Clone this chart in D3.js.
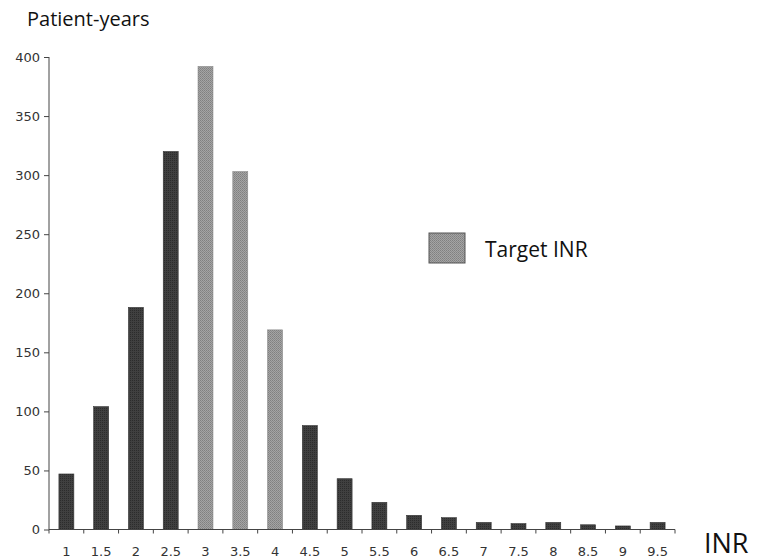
<!DOCTYPE html>
<html><head><meta charset="utf-8">
<script src="https://cdn.jsdelivr.net/npm/d3@7"></script>
<style>body{margin:0;background:#fff}svg{display:block}</style>
</head><body>
<script>
const categories = ["1","1.5","2","2.5","3","3.5","4","4.5","5","5.5","6","6.5","7","7.5","8","8.5","9","9.5"];
const values = [47,104,188,320,392,303,169,88,43,23,12,10,6,5,6,4,3,6];
const target = [false,false,false,false,true,true,true,false,false,false,false,false,false,false,false,false,false,false];
const yTicks = [0,50,100,150,200,250,300,350,400];

const W=757,H=560;
const svg=d3.select("body").append("svg").attr("width",W).attr("height",H);
const defs=svg.append("defs");
const pd=defs.append("pattern").attr("id","pd").attr("width",2).attr("height",2).attr("patternUnits","userSpaceOnUse");
pd.append("rect").attr("width",2).attr("height",2).attr("fill","#404040");
pd.append("rect").attr("width",1).attr("height",1).attr("fill","#2c2c2c");
const pl=defs.append("pattern").attr("id","pl").attr("width",2).attr("height",2).attr("patternUnits","userSpaceOnUse");
pl.append("rect").attr("width",2).attr("height",2).attr("fill","#a4a4a4");
pl.append("rect").attr("width",1).attr("height",1).attr("fill","#808080");
pl.append("rect").attr("x",1).attr("y",1).attr("width",1).attr("height",1).attr("fill","#8a8a8a");

const x0=49,x1=675,y0=529.5,yTop=57;
const x=d3.scaleBand().domain(categories).range([x0,x1]).paddingInner(0.57).paddingOuter(0.285);
const xb=d3.scaleBand().domain(categories).range([x0,x1]);
const y=d3.scaleLinear().domain([0,400]).range([y0,yTop]);

svg.selectAll("rect.bar").data(categories).join("rect").attr("class","bar")
  .attr("x",d=>x(d)).attr("width",x.bandwidth())
  .attr("y",(d,i)=>y(values[i])).attr("height",(d,i)=>y0-y(values[i]))
  .attr("fill",(d,i)=>target[i]?"url(#pl)":"url(#pd)")
  .attr("stroke",(d,i)=>target[i]?"#8a8a8a":"#333").attr("stroke-width",0.6);

const tickFont="DejaVu Sans, sans-serif";
// y axis
const ya=svg.append("g").attr("transform",`translate(${x0},0)`)
  .call(d3.axisLeft(y).tickValues(yTicks).tickSize(5).tickPadding(4));
ya.select(".domain").attr("stroke","#444").attr("d",`M-0,${y0}V${yTop}`);
ya.selectAll(".tick line").attr("stroke","#444");
ya.selectAll("text").attr("font-family",tickFont).attr("font-size",13).attr("fill","#333");

// x axis: ticks at band boundaries
const xa=svg.append("g").attr("transform",`translate(0,${y0})`);
xa.append("line").attr("x1",x0).attr("x2",x1).attr("stroke","#444");
xa.selectAll("line.t").data(categories.concat(["end"])).join("line").attr("class","t")
  .attr("x1",(d,i)=>i<categories.length?xb(d):x1).attr("x2",(d,i)=>i<categories.length?xb(d):x1)
  .attr("y1",0).attr("y2",4).attr("stroke","#444");
xa.selectAll("text").data(categories).join("text")
  .attr("x",d=>xb(d)+xb.bandwidth()/2).attr("y",26)
  .attr("text-anchor","middle").attr("font-family",tickFont).attr("font-size",13).attr("fill","#333")
  .text(d=>d);

svg.append("text").attr("x",27).attr("y",26).attr("font-family","Open Sans, sans-serif").attr("font-size",20).attr("fill","#111").text("Patient-years");
svg.append("text").attr("x",704).attr("y",553).attr("font-family","Open Sans, sans-serif").attr("font-size",27).attr("fill","#111").text("INR");

// legend
svg.append("rect").attr("x",429).attr("y",233).attr("width",36).attr("height",30).attr("fill","url(#pl)").attr("stroke","#555").attr("stroke-width",1);
svg.append("text").attr("x",485).attr("y",257).attr("font-family","Open Sans, sans-serif").attr("font-size",21).attr("fill","#111").text("Target INR");
</script>
</body></html>
